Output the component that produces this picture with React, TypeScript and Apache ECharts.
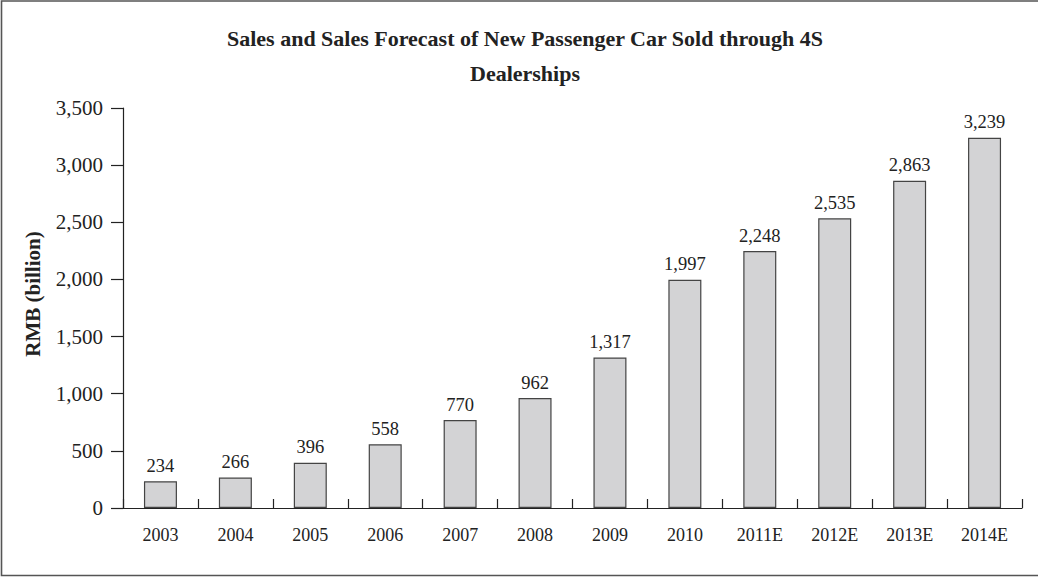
import React, { useEffect, useRef } from "react";
import * as echarts from "echarts";

const categories = ["2003", "2004", "2005", "2006", "2007", "2008", "2009", "2010", "2011E", "2012E", "2013E", "2014E"];
const sales = [234, 266, 396, 558, 770, 962, 1317, 1997, 2248, 2535, 2863, 3239];
const titleText = "Sales and Sales Forecast of New Passenger Car Sold through 4S\nDealerships";
const yAxisName = "RMB (billion)";

const FONT = "'Liberation Serif', 'Times New Roman', serif";
const fmt = (v: number) => v.toLocaleString("en-US");

export default function App() {
  const ref = useRef<HTMLDivElement>(null);
  useEffect(() => {
    if (!ref.current) return;
    const chart = echarts.init(ref.current, null, { renderer: "svg" });
    chart.setOption({
      animation: false,
      backgroundColor: "#ffffff",
      textStyle: { fontFamily: FONT, color: "#222" },
      title: {
        text: titleText,
        left: 520,
        textAlign: "center",
        top: 16,
        textStyle: { fontFamily: FONT, fontSize: 22, fontWeight: "bold", color: "#222", lineHeight: 35 },
      },
      grid: { left: 123, right: 16, top: 108, bottom: 69 },
      xAxis: {
        type: "category",
        data: categories,
        axisLine: { show: true, lineStyle: { color: "#222", width: 1.2 } },
        axisTick: { show: true, inside: true, length: 9, alignWithLabel: false, lineStyle: { color: "#222", width: 1.2 } },
        axisLabel: { fontFamily: FONT, fontSize: 18, color: "#222", margin: 18 },
        splitLine: { show: false },
      },
      yAxis: {
        type: "value",
        min: 0,
        max: 3500,
        interval: 500,
        axisLine: { show: true, lineStyle: { color: "#222", width: 1.2 } },
        axisTick: { show: true, inside: false, length: 12, lineStyle: { color: "#222", width: 1.2 } },
        axisLabel: { fontFamily: FONT, fontSize: 21, color: "#222", margin: 20, formatter: (v: number) => fmt(v) },
        splitLine: { show: false },
      },
      graphic: [
        {
          type: "rect",
          shape: { x: 1.5, y: 1, width: 1100, height: 574.5 },
          style: { fill: "none", stroke: "#555", lineWidth: 1.6 },
          silent: true,
        },
        {
          type: "text",
          x: 33,
          y: 294,
          rotation: Math.PI / 2,
          style: {
            text: yAxisName,
            fontFamily: FONT,
            fontSize: 21,
            fontWeight: "bold",
            fill: "#222",
            align: "center",
            verticalAlign: "middle",
          },
        },
      ],
      series: [
        {
          type: "bar",
          data: sales,
          barWidth: 33,
          itemStyle: { color: "#d3d3d5", borderColor: "#444", borderWidth: 1.2 },
          label: {
            show: true,
            position: "top",
            distance: 6,
            fontFamily: FONT,
            fontSize: 18.5,
            color: "#222",
            formatter: (p: any) => fmt(p.value),
          },
        },
      ],
    });
    return () => chart.dispose();
  }, []);
  return <div ref={ref} style={{ position: "absolute", left: 0, top: 0, width: 1038, height: 577 }} />;
}
